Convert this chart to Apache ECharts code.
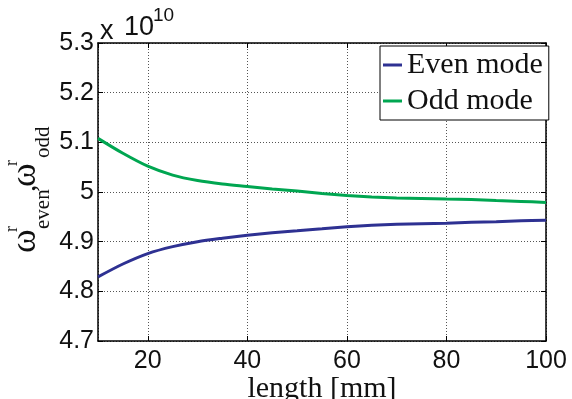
<!DOCTYPE html>
<html>
<head>
<meta charset="utf-8">
<script src="https://cdn.jsdelivr.net/npm/echarts@6/dist/echarts.min.js"></script>
<style>
  html, body { margin: 0; padding: 0; background: #fff; }
  #chart { width: 572px; height: 399px; }
</style>
</head>
<body>
<div id="chart"></div>
<script>
// length [mm]
const lengths = [10, 15, 20, 25, 30, 35, 40, 45, 50, 55, 60, 65, 70, 75, 80, 85, 90, 95, 100];
// resonance frequencies, in units of 1e10
const evenMode = [4.829, 4.855, 4.876, 4.890, 4.900, 4.907, 4.913, 4.918, 4.922, 4.926, 4.930, 4.933, 4.935, 4.936, 4.937, 4.939, 4.940, 4.942, 4.943];
const oddMode = [5.108, 5.078, 5.052, 5.034, 5.023, 5.016, 5.011, 5.006, 5.002, 4.997, 4.993, 4.990, 4.988, 4.987, 4.986, 4.985, 4.983, 4.981, 4.979];
const seriesNames = ['Even mode', 'Odd mode'];

const sans = '"Liberation Sans", Arial, sans-serif';
const serif = '"Liberation Serif", "Times New Roman", serif';

const chart = echarts.init(document.getElementById('chart'));

const pair = (ys) => lengths.map((x, i) => [x, ys[i]]);

const tickStyle = { show: true, inside: true, length: 5, lineStyle: { color: '#000', width: 1 } };
const lineStyle = { show: true, lineStyle: { color: '#000', width: 1.5 } };
const gridLines = { show: true, lineStyle: { color: '#555', width: 1, type: [1, 2] } };

// y label pieces: omega^r_even , omega^r_odd (drawn rotated)
const yLabel = [
  { t: 'ω', x: -1, y: -11, s: 36 },
  { t: 'r', x: 20, y: -25, s: 18 },
  { t: 'even', x: 23, y: 6, s: 21 },
  { t: ',', x: 60, y: -10, s: 30 },
  { t: 'ω', x: 65, y: -11, s: 36 },
  { t: 'r', x: 86, y: -25, s: 18 },
  { t: 'odd', x: 94, y: 6, s: 21 }
];

chart.setOption({
  animation: false,
  backgroundColor: '#fff',
  grid: { left: 98, right: 26, top: 43, bottom: 58, outerBoundsMode: 'none', containLabel: false },
  legend: {
    data: seriesNames,
    orient: 'vertical',
    left: 380,
    top: 46,
    padding: [4, 6, 4, 3],
    itemGap: 6,
    itemWidth: 19,
    itemHeight: 3,
    icon: 'rect',
    backgroundColor: '#fff',
    borderColor: '#000',
    borderWidth: 1,
    textStyle: { fontFamily: serif, fontSize: 30, color: '#111', lineHeight: 30 }
  },
  xAxis: [
    {
      type: 'value', min: 10, max: 100,
      name: 'length [mm]', nameLocation: 'middle', nameGap: 33, nameMoveOverlap: false,
      nameTextStyle: { fontFamily: serif, fontSize: 30, color: '#111' },
      axisLine: lineStyle, axisTick: tickStyle, splitLine: gridLines,
      axisLabel: { showMinLabel: false, margin: 8, fontFamily: sans, fontSize: 25, color: '#111' }
    },
    {
      type: 'value', min: 10, max: 100, position: 'top',
      axisLine: lineStyle, axisTick: tickStyle, splitLine: { show: false },
      axisLabel: { show: false }
    }
  ],
  yAxis: [
    {
      type: 'value', min: 4.7, max: 5.3, interval: 0.1,
      axisLine: lineStyle, axisTick: tickStyle, splitLine: gridLines,
      axisLabel: {
        margin: 4, fontFamily: sans, fontSize: 25, color: '#111',
        formatter: (v) => String(+v.toFixed(1))
      }
    },
    {
      type: 'value', min: 4.7, max: 5.3, interval: 0.1, position: 'right',
      axisLine: lineStyle, axisTick: tickStyle, splitLine: { show: false },
      axisLabel: { show: false }
    }
  ],
  series: [
    {
      name: seriesNames[0], type: 'line', data: pair(evenMode),
      smooth: 0.3, showSymbol: false,
      lineStyle: { color: '#2e3192', width: 3 }, itemStyle: { color: '#2e3192' }
    },
    {
      name: seriesNames[1], type: 'line', data: pair(oddMode),
      smooth: 0.3, showSymbol: false,
      lineStyle: { color: '#00a651', width: 3 }, itemStyle: { color: '#00a651' }
    }
  ],
  graphic: [
    { type: 'text', left: 100, top: 18, style: { text: 'x', fontFamily: sans, fontSize: 27, fill: '#111' } },
    { type: 'text', left: 124, top: 14, style: { text: '10', fontFamily: sans, fontSize: 27, fill: '#111' } },
    { type: 'text', left: 153, top: 6, style: { text: '10', fontFamily: sans, fontSize: 19, fill: '#111' } },
    {
      type: 'group', x: 37, y: 252, rotation: Math.PI / 2,
      children: yLabel.map((p) => ({
        type: 'text', x: p.x, y: p.y,
        style: { text: p.t, fontFamily: serif, fontSize: p.s, fill: '#111', verticalAlign: 'middle', align: 'left' }
      }))
    }
  ]
});
</script>
</body>
</html>
